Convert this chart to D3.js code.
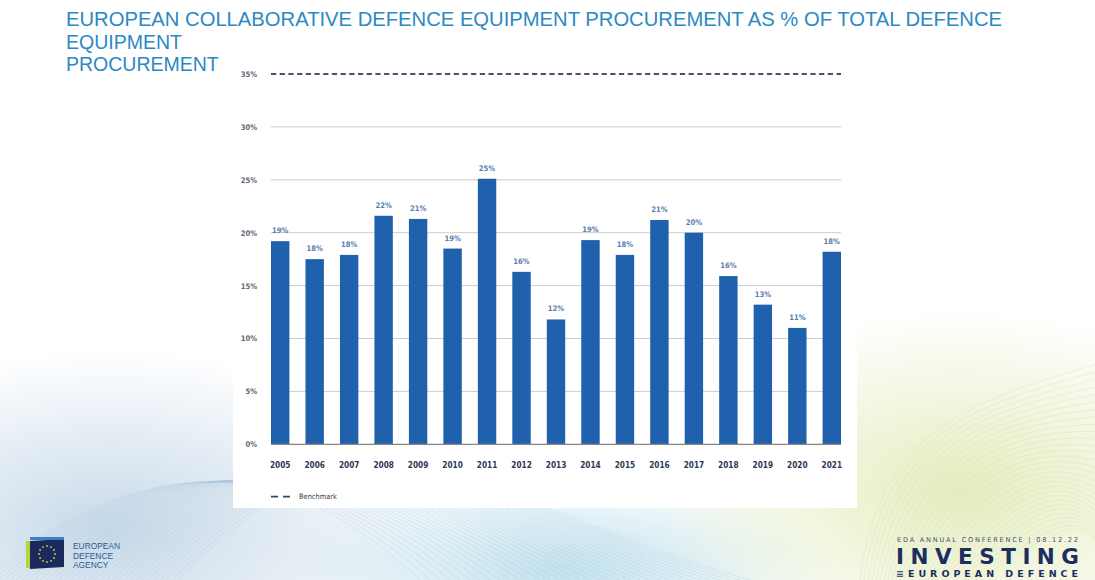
<!DOCTYPE html>
<html>
<head>
<meta charset="utf-8">
<script src="https://cdn.jsdelivr.net/npm/d3@7"></script>
<style>
  html, body { margin: 0; padding: 0; background: #ffffff; }
  svg { display: block; }
</style>
</head>
<body>
<svg id="chart" width="1095" height="580"></svg>
<script>
// ---- data ----
const years = ["2005","2006","2007","2008","2009","2010","2011","2012","2013","2014","2015","2016","2017","2018","2019","2020","2021"];
const shares = [19.2, 17.5, 17.9, 21.6, 21.3, 18.5, 25.1, 16.3, 11.8, 19.3, 17.9, 21.2, 20.0, 15.9, 13.2, 11.0, 18.2];
const shareLabels = ["19%","18%","18%","22%","21%","19%","25%","16%","12%","19%","18%","21%","20%","16%","13%","11%","18%"];
const yTicks = [0, 5, 10, 15, 20, 25, 30, 35];
const benchmark = [35];
const titleLines = ["EUROPEAN COLLABORATIVE DEFENCE EQUIPMENT PROCUREMENT AS % OF TOTAL DEFENCE", "EQUIPMENT", "PROCUREMENT"];

const svg = d3.select("#chart");
const defs = svg.append("defs");

// ---- slide background ----
function radial(id, color, op) {
  const g = defs.append("radialGradient").attr("id", id).attr("cx","0.5").attr("cy","0.5").attr("r","0.5");
  g.append("stop").attr("offset","0%").attr("stop-color",color).attr("stop-opacity",op);
  g.append("stop").attr("offset","100%").attr("stop-color",color).attr("stop-opacity",0);
}
radial("gl", "#c4d7e7", 0.95);
radial("gr", "#e3ecbc", 0.95);
radial("gm", "#b6dcea", 0.85);

svg.append("rect").attr("width",1095).attr("height",580).attr("fill","#ffffff");
svg.append("ellipse").attr("cx",110).attr("cy",530).attr("rx",340).attr("ry",180).attr("fill","url(#gl)");
svg.append("ellipse").attr("cx",560).attr("cy",570).attr("rx",280).attr("ry",100).attr("fill","url(#gm)");
svg.append("ellipse").attr("cx",960).attr("cy",490).attr("rx",310).attr("ry",180).attr("fill","url(#gr)");

// decorative mesh strokes
const deco = svg.append("g").attr("fill","none").attr("stroke-width",0.6);
for (let i = 0; i < 34; i++) {
  deco.append("path")
    .attr("d", `M ${-20 + i*6} 580 C ${120 + i*8} ${470 - i*3}, ${260 + i*6} ${430 + i*2}, ${420 + i*10} 580`)
    .attr("stroke", "#9dbdd8").attr("stroke-opacity", 0.4);
}
for (let i = 0; i < 30; i++) {
  deco.append("path")
    .attr("d", `M ${860 + i*4} 580 C ${880 + i*6} ${420 + i*4}, ${980 + i*4} ${400 + i*3}, 1110 ${360 + i*8}`)
    .attr("stroke", "#cfd99e").attr("stroke-opacity", 0.5);
}

// ---- title ----
const title = svg.append("g")
  .attr("font-family", "Liberation Sans, Arial, sans-serif")
  .attr("font-size", 19.5)
  .attr("fill", "#2b89c3");
title.selectAll("text").data(titleLines).join("text")
  .attr("x", 66)
  .attr("y", (d,i) => 26 + i*22.5)
  .text(d => d)
  .each(function(d,i){ if (i === 0) d3.select(this).attr("textLength", 936).attr("lengthAdjust","spacingAndGlyphs"); });

// ---- chart panel ----
svg.append("rect").attr("x",233).attr("y",60).attr("width",624).attr("height",448).attr("fill","#ffffff");

const x = d3.scaleBand().domain(years).range([271, 841]).paddingInner(0.466).paddingOuter(0);
const y = d3.scaleLinear().domain([0, 35]).range([444.3, 74]);

const chartFont = "DejaVu Sans Condensed, DejaVu Sans, sans-serif";

// gridlines
svg.append("g").selectAll("line").data(yTicks.filter(t => t > 0 && t < 35)).join("line")
  .attr("x1", 271).attr("x2", 841)
  .attr("y1", d => y(d)).attr("y2", d => y(d))
  .attr("stroke", "#cdcdcd").attr("stroke-width", 1);

// y labels
const yAxis = d3.axisLeft(y).tickValues(yTicks).tickFormat(d => d + "%").tickSize(0).tickPadding(0);
const yg = svg.append("g").attr("transform", "translate(257,0)").call(yAxis);
yg.select(".domain").remove();
yg.selectAll("text")
  .attr("font-family", chartFont).attr("font-weight", "bold")
  .attr("font-size", 7.6).attr("fill", "#5f6677");

// bars
svg.append("g").selectAll("rect").data(years).join("rect")
  .attr("x", d => x(d))
  .attr("width", x.bandwidth())
  .attr("y", (d,i) => y(shares[i]))
  .attr("height", (d,i) => y(0) - y(shares[i]))
  .attr("fill", "#2061ad");

// baseline
svg.append("line").attr("x1", 271).attr("x2", 841).attr("y1", y(0)).attr("y2", y(0))
  .attr("stroke", "#8a8580").attr("stroke-width", 1.3);

// benchmark
svg.append("g").selectAll("line").data(benchmark).join("line")
  .attr("x1", 271).attr("x2", 841)
  .attr("y1", d => y(d)).attr("y2", d => y(d))
  .attr("stroke", "#4a5070").attr("stroke-width", 2)
  .attr("stroke-dasharray", "5.2,3.5");

// value labels
svg.append("g").selectAll("text").data(years).join("text")
  .attr("x", d => x(d) + x.bandwidth()/2)
  .attr("y", (d,i) => y(shares[i]) - 8)
  .attr("text-anchor", "middle")
  .attr("font-family", chartFont).attr("font-weight", "bold")
  .attr("font-size", 7.6).attr("fill", "#5a7db0")
  .text((d,i) => shareLabels[i]);

// x labels
const xAxis = d3.axisBottom(x).tickSize(0).tickPadding(0);
const xg = svg.append("g").attr("transform", `translate(0,${y(0) + 23.5})`).call(xAxis);
xg.select(".domain").remove();
xg.selectAll("text")
  .attr("dy", 0)
  .attr("font-family", chartFont).attr("font-weight", "bold")
  .attr("font-size", 8.2).attr("fill", "#2c3756");

// legend
const lg = svg.append("g");
lg.append("line").attr("x1", 271).attr("x2", 291).attr("y1", 496.7).attr("y2", 496.7)
  .attr("stroke", "#3e4565").attr("stroke-width", 1.8).attr("stroke-dasharray", "7,5");
lg.append("text").attr("x", 299).attr("y", 499.3)
  .attr("font-family", chartFont).attr("font-size", 7.4).attr("fill", "#3a3a3a")
  .text("Benchmark");

// ---- EDA logo (bottom left) ----
const logo = svg.append("g");
logo.append("rect").attr("x", 26).attr("y", 541).attr("width", 4).attr("height", 27).attr("fill", "#b9d23c");
logo.append("path").attr("d", "M30 541 L64 539 L64 567 L30 569 Z").attr("fill", "#1b2a5c");
logo.append("rect").attr("x", 30).attr("y", 537).attr("width", 34).attr("height", 3).attr("fill", "#3d7fc8");
const stars = d3.range(12);
logo.selectAll("circle.star").data(stars).join("circle")
  .attr("class","star")
  .attr("cx", d => 47 + 8*Math.cos(d*Math.PI/6))
  .attr("cy", d => 554 + 8*Math.sin(d*Math.PI/6))
  .attr("r", 0.9).attr("fill", "#e6c94a");
logo.selectAll("text").data(["EUROPEAN","DEFENCE","AGENCY"]).join("text")
  .attr("x", 73).attr("y", (d,i) => 549 + i*9.6)
  .attr("font-family", "Liberation Sans Narrow, Liberation Sans, Arial, sans-serif")
  .attr("font-size", 8.4).attr("fill", "#2e5a98")
  .text(d => d);

// ---- conference mark (bottom right) ----
const conf = svg.append("g").attr("font-family", "DejaVu Sans, sans-serif");
conf.append("text").attr("x", 897).attr("y", 541.5)
  .attr("font-size", 6.6).attr("fill", "#3b4f7c")
  .attr("textLength", 181).attr("lengthAdjust", "spacing")
  .text("EDA ANNUAL CONFERENCE | 08.12.22");
conf.append("text").attr("x", 896).attr("y", 563.5)
  .attr("font-size", 21.5).attr("font-weight", "bold").attr("fill", "#1b2e60")
  .attr("textLength", 183).attr("lengthAdjust", "spacing")
  .text("INVESTING");
conf.append("text").attr("x", 896).attr("y", 577.3)
  .attr("font-size", 9.5).attr("font-weight", "bold").attr("fill", "#1b2e60")
  .attr("textLength", 182).attr("lengthAdjust", "spacing")
  .text("\u2261EUROPEAN DEFENCE");
</script>
</body>
</html>
